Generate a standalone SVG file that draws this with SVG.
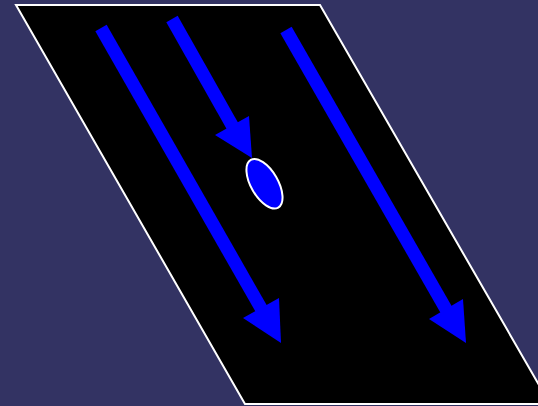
<svg xmlns="http://www.w3.org/2000/svg" width="538" height="406" viewBox="0 0 538 406">
<style>
.bg{fill:#333363}
.plate{fill:#000;stroke:#fff;stroke-width:2}
.shaft{stroke:#00f;stroke-width:13;fill:none}
.head{fill:#00f}
.node{fill:#00f;stroke:#fff;stroke-width:2}
</style>
<rect class="bg" x="0" y="0" width="538" height="406"/>
<polygon class="plate" points="16,5 320,5 550,404 245,404"/>
<g id="connectors">
<line class="shaft" x1="101" y1="28" x2="262" y2="310"/>
<polygon class="head" points="243,318 279,298 281,343"/>
<line class="shaft" x1="172" y1="19" x2="233" y2="127"/>
<polygon class="head" points="215,135 249,116 252,158"/>
<line class="shaft" x1="286" y1="30" x2="447" y2="311"/>
<polygon class="head" points="429,319 463,299 466,343"/>
</g>
<g id="node1">
<ellipse class="node" cx="264.5" cy="183.8" rx="13.5" ry="27.5" transform="rotate(-30 264.5 183.8)"/>
</g>
</svg>
